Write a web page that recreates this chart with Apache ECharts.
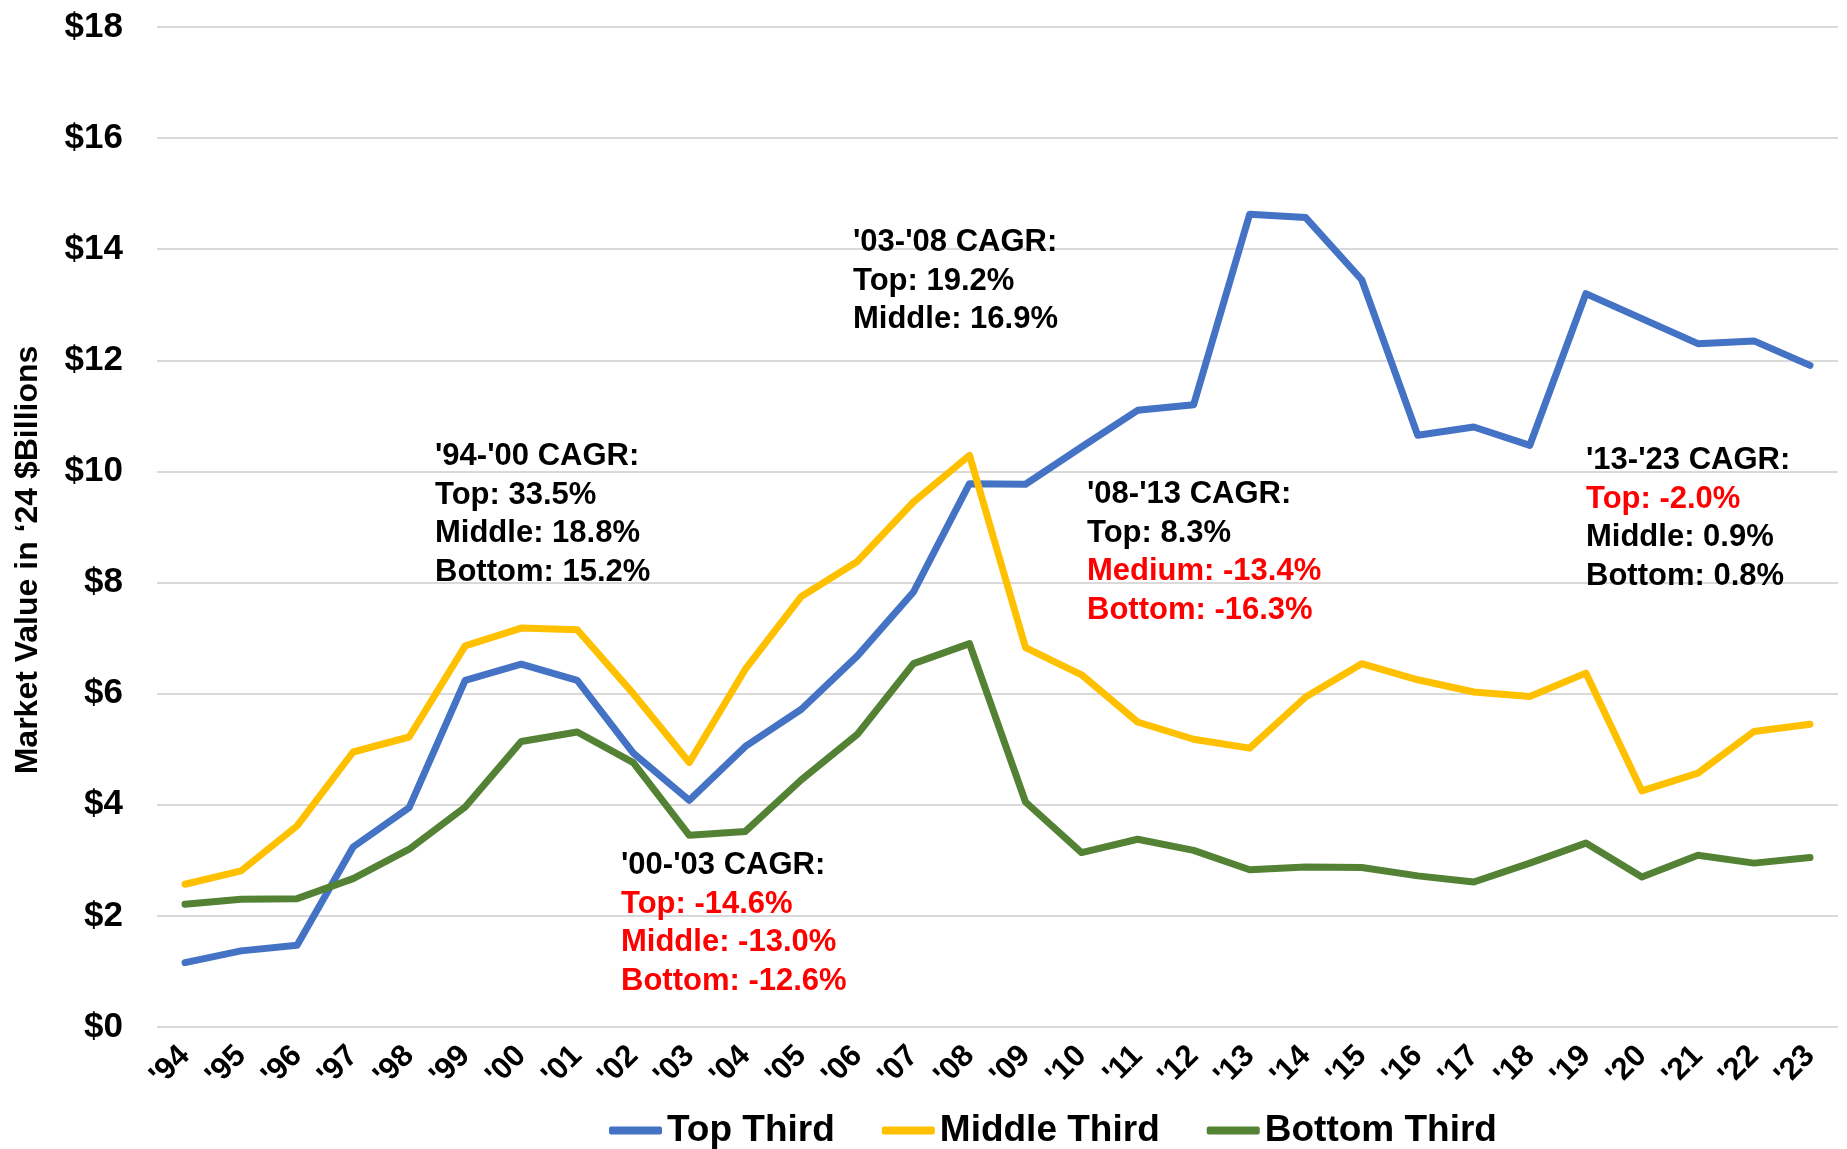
<!DOCTYPE html>
<html>
<head>
<meta charset="utf-8">
<title>Market Value by Third</title>
<script src="https://cdn.jsdelivr.net/npm/echarts@6/dist/echarts.min.js"></script>
<style>
  html, body { margin: 0; padding: 0; background: #fff; }
  #chart { width: 1847px; height: 1149px; }
</style>
</head>
<body>
<div id="chart"></div>
<script>
// years on the x axis
var years = ["'94", "'95", "'96", "'97", "'98", "'99", "'00", "'01", "'02", "'03",
  "'04", "'05", "'06", "'07", "'08", "'09", "'10", "'11", "'12", "'13",
  "'14", "'15", "'16", "'17", "'18", "'19", "'20", "'21", "'22", "'23"];

// market value, '24 $ billions
var topThird = [1.16, 1.37, 1.47, 3.24, 3.95, 6.24, 6.53, 6.24, 4.93, 4.08,
  5.05, 5.72, 6.68, 7.83, 9.78, 9.77, 10.44, 11.10, 11.20, 14.63,
  14.57, 13.45, 10.65, 10.80, 10.47, 13.20, 12.75, 12.30, 12.35, 11.91];
var middleThird = [2.57, 2.81, 3.62, 4.95, 5.22, 6.86, 7.18, 7.15, 6.00, 4.76,
  6.44, 7.75, 8.38, 9.45, 10.29, 6.83, 6.34, 5.49, 5.18, 5.02,
  5.94, 6.54, 6.25, 6.03, 5.95, 6.37, 4.25, 4.57, 5.32, 5.45];
var bottomThird = [2.21, 2.30, 2.31, 2.67, 3.20, 3.96, 5.14, 5.31, 4.76, 3.45,
  3.52, 4.45, 5.27, 6.54, 6.90, 4.05, 3.14, 3.38, 3.18, 2.83,
  2.88, 2.87, 2.72, 2.61, 2.95, 3.31, 2.70, 3.09, 2.95, 3.05];

var seriesNames = ['Top Third', 'Middle Third', 'Bottom Third'];

// CAGR notes: each line is [text, isNegative]
var note9400 = [["'94-'00 CAGR:", 0], ['Top: 33.5%', 0], ['Middle: 18.8%', 0], ['Bottom: 15.2%', 0]];
var note0003 = [["'00-'03 CAGR:", 0], ['Top: -14.6%', 1], ['Middle: -13.0%', 1], ['Bottom: -12.6%', 1]];
var note0308 = [["'03-'08 CAGR:", 0], ['Top: 19.2%', 0], ['Middle: 16.9%', 0]];
var note0813 = [["'08-'13 CAGR:", 0], ['Top: 8.3%', 0], ['Medium: -13.4%', 1], ['Bottom: -16.3%', 1]];
var note1323 = [["'13-'23 CAGR:", 0], ['Top: -2.0%', 1], ['Middle: 0.9%', 0], ['Bottom: 0.8%', 0]];

var FONT = '"Liberation Sans", Arial, sans-serif';

function noteText(lines, x, y) {
  return {
    type: 'text',
    left: x,
    top: y,
    z: 100,
    style: {
      text: lines.map(function (l) { return '{' + (l[1] ? 'r' : 'b') + '|' + l[0] + '}'; }).join('\n'),
      rich: {
        b: { fill: '#000', fontSize: 31, fontWeight: 'bold', fontFamily: FONT, lineHeight: 38.5 },
        r: { fill: '#FF0000', fontSize: 31, fontWeight: 'bold', fontFamily: FONT, lineHeight: 38.5 }
      }
    }
  };
}

var myChart = echarts.init(document.getElementById('chart'));

function line(name, data, color) {
  return {
    name: name,
    type: 'line',
    data: data,
    showSymbol: false,
    symbol: 'none',
    lineStyle: { color: color, width: 7, cap: 'round', join: 'round' },
    itemStyle: { color: color }
  };
}

var option = {
  animation: false,
  backgroundColor: '#fff',
  grid: { left: 157, right: 9, top: 27, bottom: 122 },
  legend: {
    left: 604,
    top: 1107,
    icon: 'roundRect',
    itemWidth: 53,
    itemHeight: 8,
    itemGap: 47,
    data: seriesNames,
    textStyle: { fontSize: 37, fontWeight: 'bold', color: '#000', fontFamily: FONT }
  },
  xAxis: {
    type: 'category',
    data: years,
    boundaryGap: true,
    axisLine: { show: false },
    axisTick: { show: false },
    axisLabel: {
      interval: 0,
      rotate: 45,
      margin: 24,
      color: '#000',
      fontSize: 31,
      fontWeight: 'bold',
      fontFamily: FONT
    }
  },
  yAxis: {
    type: 'value',
    min: 0,
    max: 18,
    interval: 2,
    axisLine: { show: false },
    axisTick: { show: false },
    splitLine: { lineStyle: { color: '#D9D9D9', width: 2 } },
    axisLabel: {
      margin: 34,
      color: '#000',
      fontSize: 35,
      fontWeight: 'bold',
      fontFamily: FONT,
      formatter: function (v) { return '$' + v; }
    }
  },
  graphic: [
    {
      type: 'text',
      x: 28,
      y: 560,
      rotation: Math.PI / 2,
      style: {
        text: 'Market Value in \u201824 $Billions',
        fill: '#000',
        fontSize: 32,
        fontWeight: 'bold',
        fontFamily: FONT,
        align: 'center',
        verticalAlign: 'middle'
      }
    },
    noteText(note9400, 435, 441),
    noteText(note0308, 853, 227),
    noteText(note0813, 1087, 479),
    noteText(note0003, 621, 850),
    noteText(note1323, 1586, 445)
  ],
  series: [
    line(seriesNames[0], topThird, '#4472C4'),
    line(seriesNames[1], middleThird, '#FFC000'),
    line(seriesNames[2], bottomThird, '#548235')
  ]
};

option && myChart.setOption(option);
</script>
</body>
</html>
